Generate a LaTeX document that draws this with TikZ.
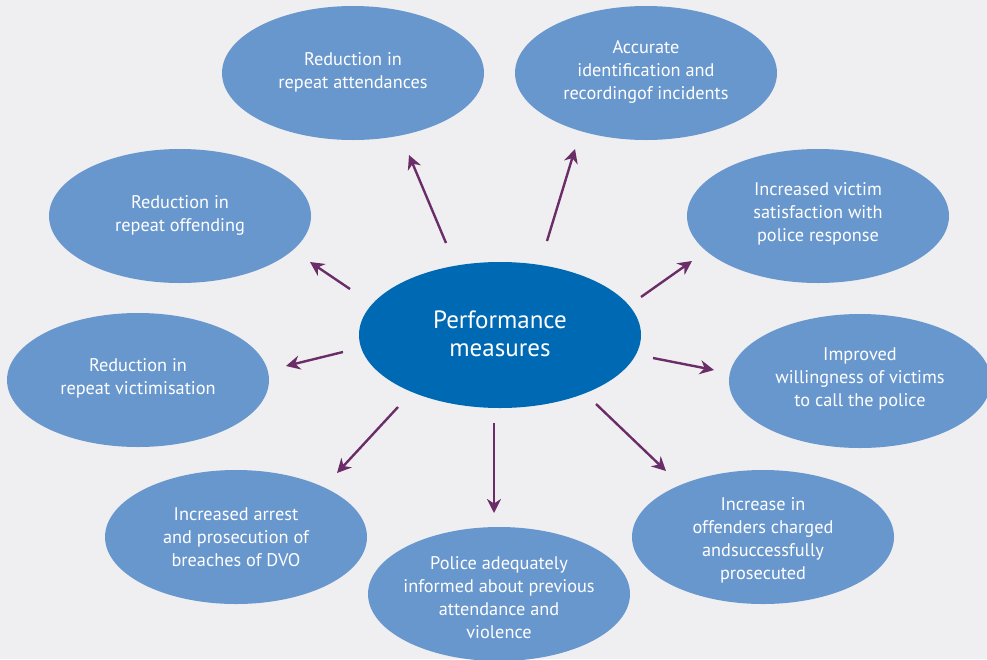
\documentclass[tikz,border=0pt]{standalone}
\usepackage{fontspec}
\setmainfont{PT Sans}
\usetikzlibrary{shapes.geometric,arrows.meta}
\definecolor{bg}{HTML}{EFEFF2}
\definecolor{bubblefill}{HTML}{6897CE}
\definecolor{hubfill}{HTML}{0069B4}
\definecolor{arrowcol}{HTML}{6B2D68}
\tikzset{
  bubble/.style={ellipse, fill=bubblefill, minimum width=262pt, minimum height=134pt, inner sep=0pt},
  hub/.style={ellipse, fill=hubfill, minimum width=282pt, minimum height=146pt, inner sep=0pt},
  bubbletext/.style={text=white, align=center, font=\fontsize{18.3}{23}\selectfont},
  hubtext/.style={text=white, align=center, font=\fontsize{25}{28}\selectfont},
  link/.style={draw=arrowcol, line width=2.4pt, -{Stealth[length=14pt, width=14pt, inset=4.5pt]}}
}
\begin{document}
\begin{tikzpicture}[x=1pt, y=-1pt]
  \useasboundingbox (0,0) rectangle (987,659);
  \fill[bg] (0,0) rectangle (987,659);
  \begin{scope}
    \clip (0,0) rectangle (987,659);
    % outcome bubbles
    \node[bubble] (attend) at (353,73) {};
    \node[bubble] (accurate) at (646,73) {};
    \node[bubble] (offend) at (180,216) {};
    \node[bubble] (satisf) at (818,216) {};
    \node[bubble] (victim) at (138,380) {};
    \node[bubble] (willing) at (860,381) {};
    \node[bubble] (dvo) at (236,537) {};
    \node[bubble] (police) at (499,594) {};
    \node[bubble] (charged) at (763,537) {};
    % central measure
    \node[hub] (hub) at (500,335) {};
  \end{scope}

  % labels
  \node[bubbletext] (attend-t) at ([yshift=1pt]attend) {Reduction in\\repeat attendances};
  \node[bubbletext] (accurate-t) at ([yshift=1pt]accurate) {Accurate\\identification and\\recordingof incidents};
  \node[bubbletext] (offend-t) at ([yshift=1pt]offend) {Reduction in\\repeat offending};
  \node[bubbletext] (satisf-t) at ([yshift=2pt]satisf) {Increased victim\\satisfaction with\\police response};
  \node[bubbletext] (victim-t) at ([yshift=2pt]victim) {Reduction in\\repeat victimisation};
  \node[bubbletext] (willing-t) at ([yshift=2pt]willing) {Improved\\willingness of victims\\to call the police};
  \node[bubbletext] (dvo-t) at ([yshift=0pt]dvo) {Increased arrest\\and prosecution of\\breaches of DVO};
  \node[bubbletext] (police-t) at ([yshift=-3.5pt]police) {Police adequately\\informed about previous\\attendance and\\violence};
  \node[bubbletext] (charged-t) at ([yshift=-3pt]charged) {Increase in\\offenders charged\\andsuccessfully\\prosecuted};
  \node[hubtext] (hub-t) at ([yshift=1pt]hub) {Performance\\measures};

  % arrow end points
  \coordinate (a1) at (446,243); \coordinate (b1) at (409,155);
  \coordinate (a2) at (547,241); \coordinate (b2) at (575,149);
  \coordinate (a3) at (350,289); \coordinate (b3) at (310,262);
  \coordinate (a4) at (641,297); \coordinate (b4) at (692,261);
  \coordinate (a5) at (343,352); \coordinate (b5) at (286,366);
  \coordinate (a6) at (653,358); \coordinate (b6) at (714,370);
  \coordinate (a7) at (398,407); \coordinate (b7) at (337,473);
  \coordinate (a8) at (494,423); \coordinate (b8) at (494,513);
  \coordinate (a9) at (596,404); \coordinate (b9) at (666,471);

  \foreach \i in {1,...,9} \draw[link] (a\i) -- (b\i);
\end{tikzpicture}
\end{document}
